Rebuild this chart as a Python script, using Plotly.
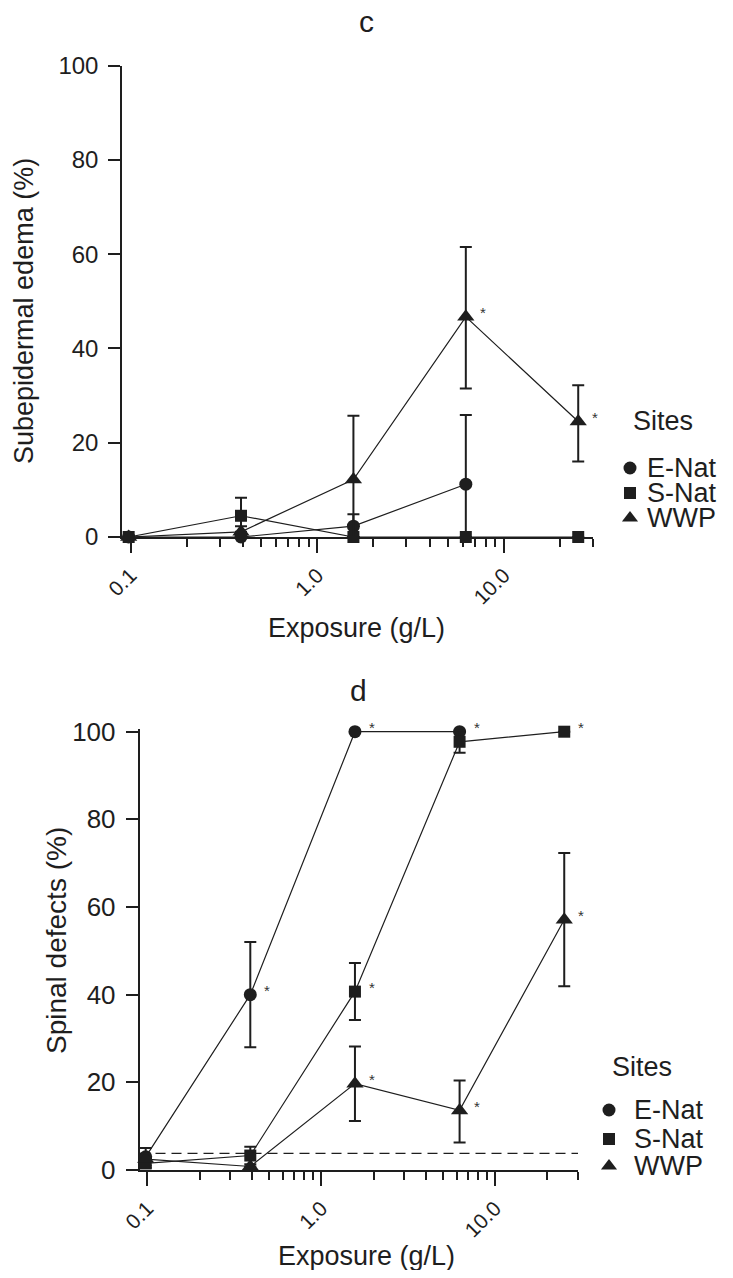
import math
import plotly.graph_objects as go

W, H = 733, 1278          # browser window
PAGE_MARGIN = 8           # default body margin of the html page
FW, FH = W - 2 * PAGE_MARGIN, H - 2 * PAGE_MARGIN
FONT = "Liberation Sans, Arial, Helvetica, sans-serif"
INK = "#1e1e1e"

# ---------------- data ----------------
sites = ["E-Nat", "S-Nat", "WWP"]
symbols = ["circle", "square", "triangle-up"]
marker_sizes = [13, 12, 15]

dose = [0.0977, 0.3906, 1.5625, 6.25, 25.0]
x_tickvals = [0.1, 1, 10]
x_ticktext = ["0.1", "1.0", "10.0"]
x_minor = [0.2, 0.3, 0.4, 0.5, 0.6, 0.7, 0.8, 0.9, 2, 3, 4, 5, 6, 7, 8, 9, 20, 30]
y_tickvals = [0, 20, 40, 60, 80, 100]

# panel c: subepidermal edema (%)
c_enat = [0, 0, 2.3, 11.2]
c_enat_up = [0, 0, 2.5, 14.7]
c_enat_dn = [0, 0, 2.3, 11.2]
c_snat = [0, 4.5, 0, 0, 0]
c_snat_up = [0, 3.8, 0, 0, 0]
c_snat_dn = [0, 2.2, 0, 0, 0]
c_wwp = [0, 1.1, 12.2, 46.7, 24.5]
c_wwp_up = [0, 0, 13.5, 14.8, 7.7]
c_wwp_dn = [0, 0, 12.2, 15.2, 8.5]
c_stars = {"E-Nat": [], "S-Nat": [], "WWP": [3, 4]}

# panel d: spinal defects (%)
d_enat = [3.0, 40.0, 100.0, 100.0]
d_enat_up = [2.0, 12.0, 0, 0]
d_enat_dn = [2.0, 12.0, 0, 0]
d_snat = [1.5, 3.3, 40.7, 97.7, 100.0]
d_snat_up = [1.0, 2.0, 6.5, 2.5, 0]
d_snat_dn = [1.0, 2.0, 6.5, 2.5, 0]
d_wwp = [2.5, 0.8, 19.7, 13.6, 57.1]
d_wwp_up = [0, 0, 8.5, 6.8, 15.2]
d_wwp_dn = [0, 0, 8.5, 7.3, 15.2]
d_stars = {"E-Nat": [1, 2, 3], "S-Nat": [2, 4], "WWP": [2, 3, 4]}
d_control = 3.8

# ---------------- layout helpers (window pixel -> paper) ----------------
def px(x):
    return (x - PAGE_MARGIN) / FW

def py(y):
    return 1 - (y - PAGE_MARGIN) / FH

def ydomain(y0px, y100px, ymax):
    top = y0px - (y0px - y100px) * ymax / 100.0
    return [py(y0px), py(top)]

panels = [
    dict(xa="x", ya="y",
         series=[(c_enat, c_enat_up, c_enat_dn), (c_snat, c_snat_up, c_snat_dn), (c_wwp, c_wwp_up, c_wwp_dn)],
         stars=c_stars),
    dict(xa="x2", ya="y2",
         series=[(d_enat, d_enat_up, d_enat_dn), (d_snat, d_snat_up, d_snat_dn), (d_wwp, d_wwp_up, d_wwp_dn)],
         stars=d_stars),
]

fig = go.Figure()
annotations = []

for p in panels:
    for i, name in enumerate(sites):
        vals, up, dn = p["series"][i]
        xs = dose[:len(vals)]
        fig.add_trace(go.Scatter(
            x=xs, y=vals, name=name, mode="lines+markers",
            xaxis=p["xa"], yaxis=p["ya"], showlegend=False, cliponaxis=False,
            line=dict(color=INK, width=1.2),
            marker=dict(symbol=symbols[i], size=marker_sizes[i], color=INK, line=dict(width=0)),
            error_y=dict(type="data", symmetric=False, array=up, arrayminus=dn,
                         color=INK, thickness=2, width=6),
        ))
        for k in p["stars"][name]:
            annotations.append(dict(
                x=math.log10(xs[k]), y=vals[k], xref=p["xa"], yref=p["ya"],
                text="*", showarrow=False, xshift=17, yshift=4,
                font=dict(size=15, color="#333", family=FONT)))

# control level dashed line in panel d
fig.add_shape(type="line", xref="x2 domain", yref="y2", x0=0, x1=1,
              y0=d_control, y1=d_control,
              line=dict(color=INK, width=1.2, dash="10px,6px"))

# ---------------- manual legends ----------------
legend_specs = [
    dict(title_xy=(631, 421), marker_x=630, text_x=645, ys=[468, 493, 518]),
    dict(title_xy=(610, 1067), marker_x=609, text_x=632, ys=[1110, 1139, 1166]),
]
for spec in legend_specs:
    for i, name in enumerate(sites):
        fig.add_trace(go.Scatter(
            x=[spec["marker_x"]], y=[spec["ys"][i]], mode="markers",
            xaxis="x3", yaxis="y3", showlegend=False, cliponaxis=False, hoverinfo="skip",
            marker=dict(symbol=symbols[i], size=[13, 12, 14][i], color=INK)))
        annotations.append(dict(
            x=px(spec["text_x"]), y=py(spec["ys"][i]), xref="paper", yref="paper",
            text=name, showarrow=False, xanchor="left", yanchor="middle",
            font=dict(size=27, color=INK, family=FONT)))
    annotations.append(dict(
        x=px(spec["title_xy"][0]), y=py(spec["title_xy"][1]), xref="paper", yref="paper",
        text="Sites", showarrow=False, xanchor="left", yanchor="middle",
        font=dict(size=27, color=INK, family=FONT)))

# ---------------- titles ----------------
text_items = [
    ("c", 366, 21, 0, 30),
    ("d", 358, 690, 0, 30),
    ("Exposure (g/L)", 356, 628, 0, 27),
    ("Exposure (g/L)", 366, 1256, 0, 27),
    ("Subepidermal edema (%)", 24, 311, -90, 27),
    ("Spinal defects (%)", 56, 941, -90, 28),
]
for t, x, y, ang, sz in text_items:
    annotations.append(dict(
        x=px(x), y=py(y), xref="paper", yref="paper", text=t, showarrow=False,
        xanchor="center", yanchor="middle", textangle=ang,
        font=dict(size=sz, color=INK, family=FONT)))

def xaxis_cfg(domain, anchor):
    return dict(type="log", range=[math.log10(0.09), math.log10(30)], domain=domain, anchor=anchor,
                automargin=False,
                showline=True, linecolor=INK, linewidth=1.5, ticks="outside", ticklen=14,
                tickwidth=1.5, tickcolor=INK, tickvals=x_tickvals, ticktext=x_ticktext,
                tickangle=-45, tickfont=dict(size=21, color=INK, family=FONT),
                ticklabelstandoff=2,
                showgrid=False, zeroline=False,
                minor=dict(ticks="outside", ticklen=8, tickwidth=1.5, tickcolor=INK,
                           tickmode="array", tickvals=x_minor, showgrid=False))

def yaxis_cfg(domain, anchor, fsize, ymax):
    return dict(range=[0, ymax], domain=domain, anchor=anchor, showline=True, linecolor=INK,
                automargin=False,
                linewidth=1.5, ticks="outside", ticklen=12, tickwidth=1.5, tickcolor=INK,
                tickvals=y_tickvals, tickfont=dict(size=fsize, color=INK, family=FONT),
                ticklabelstandoff=5,
                showgrid=False, zeroline=False)

C_YMAX, D_YMAX = 100, 100.6

fig.update_layout(
    template="none",
    width=FW, height=FH, margin=dict(l=0, r=0, t=0, b=0, pad=0, autoexpand=False),
    paper_bgcolor="white", plot_bgcolor="rgba(0,0,0,0)",
    font=dict(family=FONT, color=INK),
    xaxis=xaxis_cfg([px(122), px(593)], "y"),
    yaxis=yaxis_cfg(ydomain(537, 65.5, C_YMAX), "x", 24, C_YMAX),
    xaxis2=xaxis_cfg([px(139.5), px(578)], "y2"),
    yaxis2=yaxis_cfg(ydomain(1170, 731.7, D_YMAX), "x2", 26, D_YMAX),
    xaxis3=dict(domain=[0, 1], range=[PAGE_MARGIN, W - PAGE_MARGIN], visible=False, anchor="y3",
                fixedrange=True, automargin=False),
    yaxis3=dict(domain=[0, 1], range=[H - PAGE_MARGIN, PAGE_MARGIN], visible=False, anchor="x3",
                fixedrange=True, automargin=False),
    annotations=annotations,
    showlegend=False,
)

fig.write_html("out.html")
